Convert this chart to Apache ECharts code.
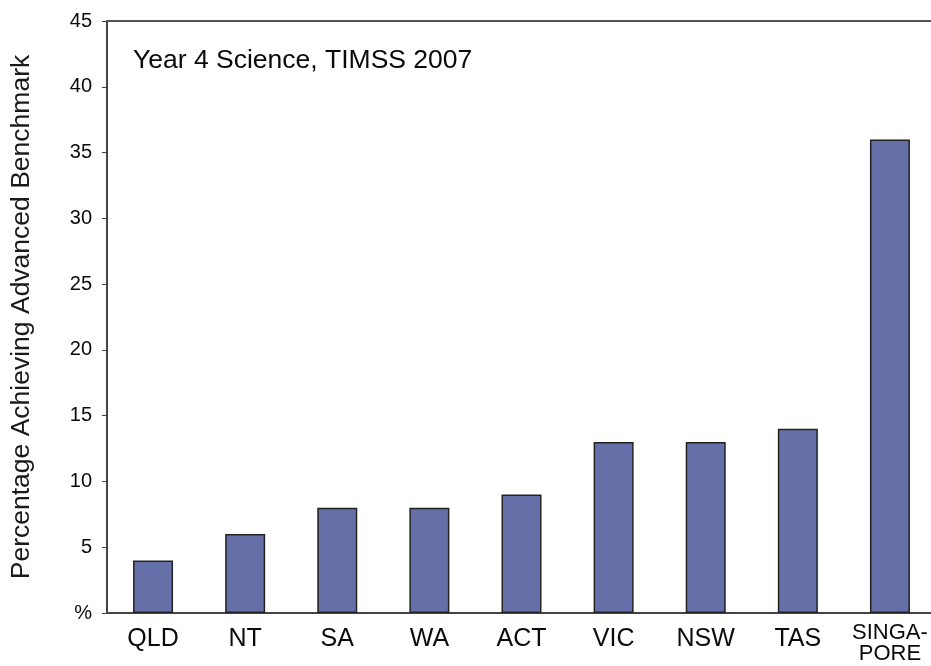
<!DOCTYPE html>
<html>
  <head>
    <meta charset="utf-8" />
  </head>
  <body style="margin: 0">
    <div id="container" style="width: 931px; height: 666px"></div>
    <script src="https://cdn.jsdelivr.net/npm/echarts@6/dist/echarts.min.js"></script>
    <script>
      var regions = ["QLD", "NT", "SA", "WA", "ACT", "VIC", "NSW", "TAS", "SINGA-\nPORE"];
      var advanced = [4, 6, 8, 8, 9, 13, 13, 14, 36];

      var chart = echarts.init(document.getElementById("container"), null, { renderer: "canvas" });
      var font = "Liberation Sans, Arial, sans-serif";

      var option = {
        animation: false,
        textStyle: { fontFamily: font },
        title: {
          text: "Year 4 Science, TIMSS 2007",
          left: 128,
          top: 42,
          textStyle: { fontFamily: font, fontSize: 26.5, fontWeight: "normal", color: "#0a0a0a" }
        },
        grid: {
          left: 107,
          top: 21,
          width: 829,
          height: 592,
          outerBoundsMode: "none",
          containLabel: false
        },
        xAxis: [
          {
            type: "category",
            data: regions,
            axisLine: { lineStyle: { color: "#444", width: 2 } },
            axisTick: { show: false },
            axisLabel: {
              interval: 0,
              color: "#0a0a0a",
              fontSize: 25,
              margin: 14,
              formatter: function (v) {
                return v.indexOf("\n") >= 0 ? "{s|" + v + "}" : v;
              },
              rich: { s: { fontSize: 22, lineHeight: 21, color: "#0a0a0a", padding: [-9, 0, 0, 0] } }
            }
          },
          {
            type: "category",
            position: "top",
            data: regions,
            axisLine: { show: true, lineStyle: { color: "#555", width: 2 } },
            axisTick: { show: false },
            axisLabel: { show: false }
          }
        ],
        yAxis: {
          type: "value",
          min: 0,
          max: 45,
          interval: 5,
          name: "Percentage Achieving Advanced Benchmark",
          nameLocation: "middle",
          nameGap: 72,
          nameTextStyle: { fontSize: 26.5, color: "#1a1a1a" },
          splitLine: { show: false },
          axisLine: { show: true, lineStyle: { color: "#444", width: 2 } },
          axisTick: { show: true, length: 5, lineStyle: { color: "#444" } },
          axisLabel: {
            color: "#0a0a0a",
            fontSize: 20,
            margin: 15,
            formatter: function (v) {
              return v === 0 ? "%" : v;
            }
          }
        },
        series: [
          {
            type: "bar",
            data: advanced,
            barWidth: 40,
            itemStyle: { color: "#6670a8", borderColor: "#222", borderWidth: 1.5 }
          }
        ]
      };

      chart.setOption(option);
      window.addEventListener("resize", chart.resize);
    </script>
  </body>
</html>
